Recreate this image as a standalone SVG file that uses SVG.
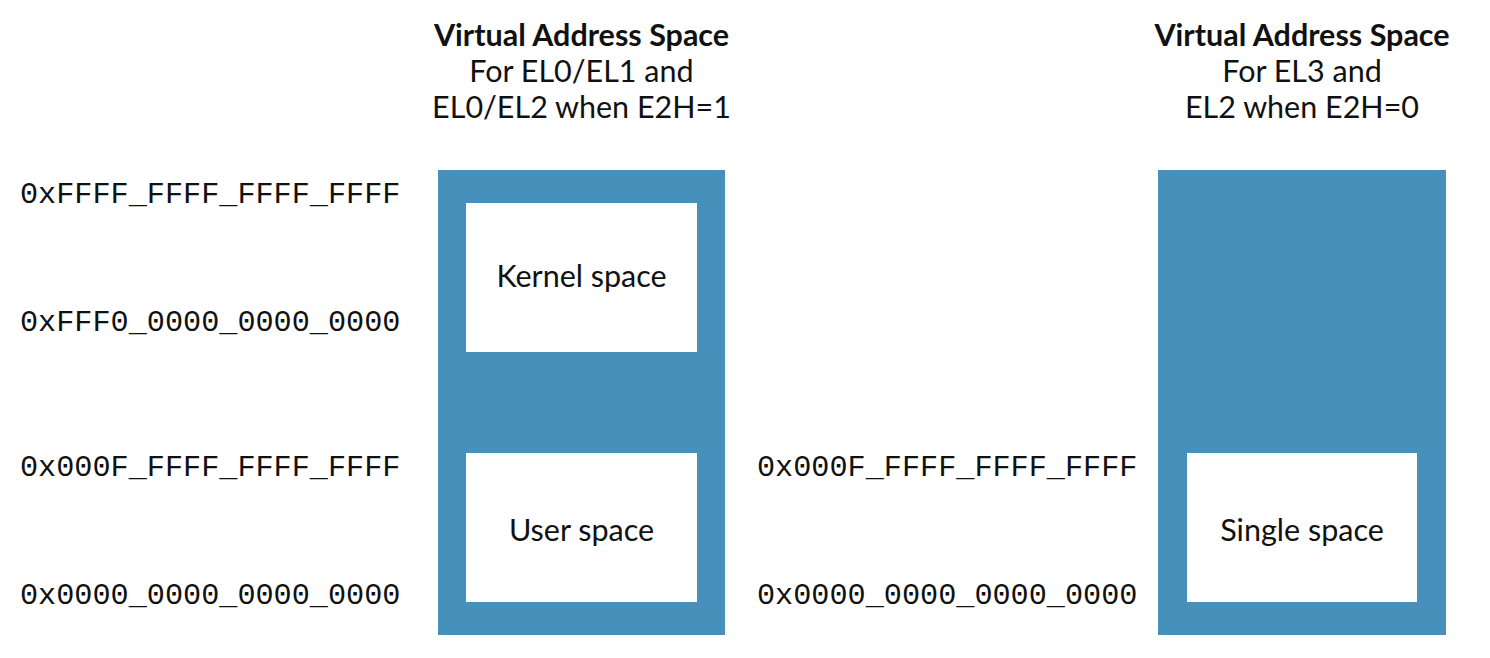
<svg xmlns="http://www.w3.org/2000/svg" width="1490" height="658" viewBox="0 0 1490 658">
<style>
.bg{fill:#4790bb}
.box{fill:#ffffff}
.title{font-family:Lato,"Noto Sans",sans-serif;font-size:30.5px;fill:#111111;text-anchor:middle}
.bold{font-weight:bold}
.lbl{font-family:Lato,"Noto Sans",sans-serif;font-size:30.5px;fill:#111111;text-anchor:middle}
.addr{font-family:"Courier New","Liberation Mono",monospace;font-size:30.2px;fill:#111111}
</style>
<rect width="1490" height="658" fill="#ffffff"/>
<g id="title-left">
<text class="title bold" x="581.5" y="46">Virtual Address Space</text>
<text class="title" x="581.5" y="82">For EL0/EL1 and</text>
<text class="title" x="581.5" y="118">EL0/EL2 when E2H=1</text>
</g>
<g id="title-right">
<text class="title bold" x="1302" y="46">Virtual Address Space</text>
<text class="title" x="1302" y="82">For EL3 and</text>
<text class="title" x="1302" y="118">EL2 when E2H=0</text>
</g>
<g id="addr-left">
<text class="addr" x="20" y="203">0xFFFF_FFFF_FFFF_FFFF</text>
<text class="addr" x="20" y="331">0xFFF0_0000_0000_0000</text>
<text class="addr" x="20" y="476">0x000F_FFFF_FFFF_FFFF</text>
<text class="addr" x="20" y="604">0x0000_0000_0000_0000</text>
</g>
<g id="addr-right">
<text class="addr" x="757" y="476">0x000F_FFFF_FFFF_FFFF</text>
<text class="addr" x="757" y="604">0x0000_0000_0000_0000</text>
</g>
<g id="space-left">
<rect class="bg" x="438" y="170" width="287" height="465"/>
</g>
<g id="kernel-space">
<rect class="box" x="466" y="203" width="231" height="149"/>
<text class="lbl" x="581.5" y="287">Kernel space</text>
</g>
<g id="user-space">
<rect class="box" x="466" y="453" width="231" height="149"/>
<text class="lbl" x="581.5" y="541">User space</text>
</g>
<g id="space-right">
<rect class="bg" x="1158" y="170" width="288" height="465"/>
</g>
<g id="single-space">
<rect class="box" x="1187" y="453" width="230" height="149"/>
<text class="lbl" x="1302" y="541">Single space</text>
</g>
<g id="connectors"></g>
</svg>
